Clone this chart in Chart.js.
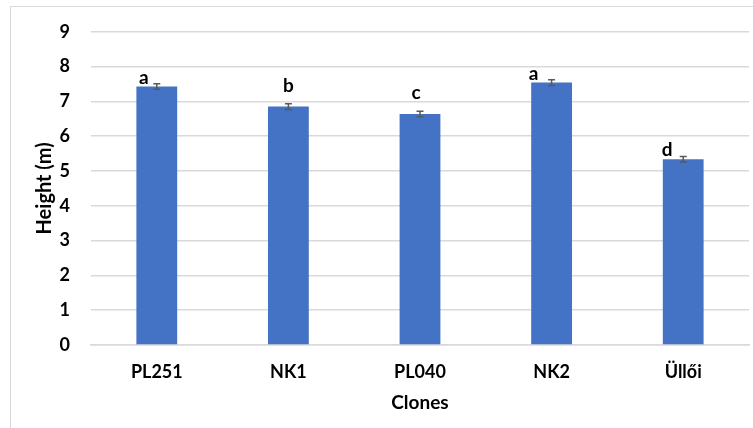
<!DOCTYPE html>
<html>
<head>
<meta charset="utf-8">
<script src="https://cdn.jsdelivr.net/npm/chart.js@4/dist/chart.umd.min.js"></script>
<style>
  body { margin: 0; background: #fff; overflow: hidden; }
  #wrap { position: relative; width: 753px; height: 428px; }
  #frame { position: absolute; left: 10px; top: 6px; width: 900px; height: 600px; border: 1px solid #d9d9d9; }
  canvas { position: absolute; left: 0; top: 0; }
</style>
</head>
<body>
<div id="wrap">
  <div id="frame"></div>
  <canvas id="chart" width="753" height="428"></canvas>
</div>
<script>
const clones = ["PL251", "NK1", "PL040", "NK2", "Üllői"];
const heights = [7.43, 6.85, 6.64, 7.54, 5.34];
const errors = [0.08, 0.08, 0.08, 0.08, 0.08];
const letters = ["a", "b", "c", "a", "d"];
const yTicks = [0, 1, 2, 3, 4, 5, 6, 7, 8, 9];

// where each letter sits relative to its bar top (pixels)
const letterShift = [[-13, -9], [0, -21], [-4, -21], [-18, -9], [-16, -9]];

const FONT = "Lato, 'Open Sans', sans-serif";

const extras = {
    id: "extras",
    afterDatasetsDraw(chart) {
        const ctx = chart.ctx;
        const y = chart.scales.y;
        const bars = chart.getDatasetMeta(0).data;

        ctx.save();
        ctx.strokeStyle = "#595959";
        ctx.lineWidth = 1.5;
        bars.forEach((bar, i) => {
            const top = y.getPixelForValue(heights[i] + errors[i]);
            const bot = y.getPixelForValue(heights[i] - errors[i]);
            ctx.beginPath();
            ctx.moveTo(bar.x, top); ctx.lineTo(bar.x, bot);
            ctx.moveTo(bar.x - 3.5, top); ctx.lineTo(bar.x + 3.5, top);
            ctx.moveTo(bar.x - 3.5, bot); ctx.lineTo(bar.x + 3.5, bot);
            ctx.stroke();
        });

        ctx.fillStyle = "#000";
        ctx.font = "bold 19px " + FONT;
        ctx.textAlign = "center";
        ctx.textBaseline = "middle";
        bars.forEach((bar, i) => {
            const yy = y.getPixelForValue(heights[i]);
            ctx.fillText(letters[i], bar.x + letterShift[i][0], yy + letterShift[i][1]);
        });
        ctx.restore();
    }
};

new Chart(document.getElementById("chart"), {
    type: "bar",
    data: {
        labels: clones,
        datasets: [{
            data: heights,
            backgroundColor: "#4472C4",
            borderWidth: 0,
            barPercentage: 0.31,
            categoryPercentage: 1
        }]
    },
    options: {
        responsive: false,
        animation: false,
        layout: { padding: { top: 27, right: 4, left: 0, bottom: 0 } },
        plugins: {
            legend: { display: false },
            tooltip: { enabled: false }
        },
        scales: {
            x: {
                grid: { display: false, drawTicks: false },
                border: { color: "#d9d9d9", width: 1.5 },
                ticks: {
                    color: "#000",
                    padding: 16,
                    font: { family: FONT, size: 18, weight: "bold" }
                },
                title: {
                    display: true,
                    text: "Clones",
                    color: "#000",
                    padding: { bottom: 14, top: 0 },
                    font: { family: FONT, size: 19, weight: "bold" }
                },
                afterFit(scale) { scale.height = 83; }
            },
            y: {
                min: 0,
                max: 9,
                afterBuildTicks(scale) { scale.ticks = yTicks.map(v => ({ value: v })); },
                grid: { color: "#d9d9d9", lineWidth: 1.5, drawTicks: false },
                border: { display: false },
                ticks: {
                    color: "#000",
                    padding: 21,
                    font: { family: FONT, size: 18, weight: "bold" }
                },
                title: {
                    display: true,
                    text: "Height (m)",
                    color: "#000",
                    padding: { top: 33, bottom: 0 },
                    font: { family: FONT, size: 20, weight: "bold" }
                },
                afterFit(scale) { scale.width = 91; }
            }
        }
    },
    plugins: [extras]
});
</script>
</body>
</html>
